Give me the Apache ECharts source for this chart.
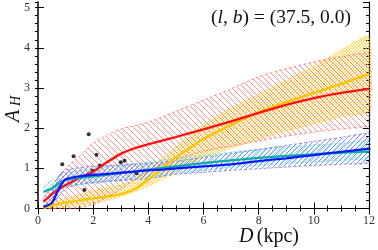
<!DOCTYPE html>
<html>
<head>
<meta charset="utf-8">
<script src="https://cdn.jsdelivr.net/npm/echarts@6/dist/echarts.min.js"></script>
<style>
html, body { margin: 0; padding: 0; background: #fff; }
#main { width: 378px; height: 250px; }
</style>
</head>
<body>
<div id="main"></div>
<script>
// distance grid (kpc)
var dist = [0.2, 0.5, 0.8, 1, 1.5, 2, 2.5, 3, 3.5, 4, 4.5, 5, 6, 7, 8, 9, 10, 11, 12];

// median curves
var redLine    = [0.17, 0.35, 0.5, 0.58, 0.76, 0.92, 1.15, 1.36, 1.5, 1.6, 1.69, 1.78, 1.97, 2.17, 2.38, 2.58, 2.75, 2.88, 2.98];
var yellowLine = [0.02, 0.07, 0.12, 0.15, 0.2, 0.25, 0.3, 0.36, 0.48, 0.72, 1.0, 1.27, 1.73, 2.08, 2.4, 2.65, 2.88, 3.1, 3.35];
var cyanLine   = [0.42, 0.5, 0.65, 0.72, 0.76, 0.8, 0.84, 0.88, 0.92, 0.97, 1.01, 1.05, 1.13, 1.2, 1.26, 1.31, 1.35, 1.39, 1.42];
var blueLine   = [0.04, 0.14, 0.55, 0.72, 0.8, 0.84, 0.86, 0.89, 0.92, 0.95, 0.97, 1.0, 1.05, 1.1, 1.18, 1.25, 1.33, 1.41, 1.49];

// uncertainty bands
var redLo    = [0.0, 0.0, 0.0, 0.0, 0.02, 0.1, 0.28, 0.48, 0.72, 0.92, 1.08, 1.22, 1.42, 1.56, 1.68, 1.8, 1.9, 1.98, 2.05];
var redHi    = [0.25, 0.55, 0.85, 1.0, 1.3, 1.63, 1.83, 1.98, 2.06, 2.15, 2.28, 2.42, 2.7, 2.98, 3.28, 3.48, 3.65, 3.78, 3.88];
var yellowLo = [0.0, 0.01, 0.02, 0.03, 0.07, 0.12, 0.2, 0.3, 0.42, 0.55, 0.72, 0.9, 1.25, 1.5, 1.72, 1.92, 2.1, 2.27, 2.42];
var yellowHi = [0.08, 0.15, 0.22, 0.25, 0.35, 0.45, 0.53, 0.6, 0.72, 0.95, 1.25, 1.55, 2.1, 2.5, 2.85, 3.2, 3.55, 3.95, 4.3];
var cyanLo   = [0.3, 0.35, 0.5, 0.55, 0.6, 0.62, 0.66, 0.7, 0.74, 0.78, 0.83, 0.88, 0.95, 1.02, 1.08, 1.12, 1.16, 1.2, 1.24];
var cyanHi   = [0.55, 0.7, 0.82, 0.88, 0.95, 1.0, 1.04, 1.08, 1.12, 1.15, 1.2, 1.25, 1.32, 1.4, 1.47, 1.53, 1.58, 1.62, 1.7];
var blueLo   = [0.0, 0.1, 0.35, 0.5, 0.6, 0.65, 0.68, 0.7, 0.72, 0.74, 0.8, 0.85, 0.9, 0.95, 0.99, 1.03, 1.07, 1.1, 1.13];
var blueHi   = [0.15, 0.4, 0.85, 0.95, 1.02, 1.05, 1.07, 1.08, 1.1, 1.12, 1.15, 1.18, 1.27, 1.37, 1.47, 1.57, 1.67, 1.77, 1.88];

// individual stars
var starD = [0.88, 1.29, 1.68, 1.84, 1.98, 2.12, 2.25, 3.0, 3.14, 3.57];
var starA = [1.1, 1.3, 0.46, 1.85, 0.94, 1.34, 1.07, 1.15, 1.19, 0.88];

var yTicks = [0, 1, 2, 3, 4, 5];

function hatch(size, color, width, dirs) {
    var c = document.createElement('canvas');
    c.width = size; c.height = size;
    var ctx = c.getContext('2d');
    ctx.strokeStyle = color;
    ctx.lineWidth = width;
    for (var k = -size; k <= size; k += size) {
        if (dirs.indexOf('\\') >= 0) {
            ctx.beginPath(); ctx.moveTo(k, 0); ctx.lineTo(k + size, size); ctx.stroke();
        }
        if (dirs.indexOf('/') >= 0) {
            ctx.beginPath(); ctx.moveTo(k, size); ctx.lineTo(k + size, 0); ctx.stroke();
        }
    }
    return {image: c, repeat: 'repeat'};
}

var patRed = hatch(6, 'rgba(255,80,80,0.7)', 0.9, '\\');
var patYellow = hatch(3, 'rgba(255,200,20,0.8)', 0.7, '\\/');
var patCyan = hatch(4, 'rgba(40,210,220,0.7)', 0.8, '/');
var patBlue = hatch(5, 'rgba(60,60,255,0.7)', 0.8, '/');

function pairs(ys) {
    return dist.map(function (d, i) { return [d, ys[i]]; });
}

function band(name, lo, hi, fill) {
    return {
        name: name,
        type: 'custom',
        silent: true,
        data: [[dist[0], lo[0]]],
        renderItem: function (params, api) {
            var pts = [];
            for (var i = 0; i < dist.length; i++) pts.push(api.coord([dist[i], hi[i]]));
            for (var j = dist.length - 1; j >= 0; j--) pts.push(api.coord([dist[j], lo[j]]));
            return {
                type: 'polygon',
                shape: {points: pts, smooth: 0.2},
                style: {fill: fill, stroke: null}
            };
        }
    };
}

function edge(ys, color) {
    return {
        type: 'line', data: pairs(ys), smooth: 0.25, symbol: 'none', silent: true,
        lineStyle: {color: color, width: 0.8, type: [3, 2]}
    };
}

function curve(ys, color) {
    return {
        type: 'line', data: pairs(ys), smooth: 0.25, symbol: 'none', silent: true,
        lineStyle: {color: color, width: 2.3}
    };
}

var serif = 'Liberation Serif';
var tickStyle = {show: true, inside: true, length: 6, lineStyle: {color: '#000', width: 1}};
var minorStyle = {show: true, inside: true, length: 3, lineStyle: {color: '#000', width: 1}};

var chartDom = document.getElementById('main');
var myChart = echarts.init(chartDom);
var option;

option = {
    animation: false,
    grid: {left: 38, right: 5, top: 2, bottom: 41.5},
    xAxis: [
        {
            type: 'value', min: 0, max: 12, interval: 2,
            axisLine: {lineStyle: {color: '#000', width: 1.2}},
            axisTick: tickStyle,
            minorTick: {show: true, splitNumber: 4, length: 3, lineStyle: {color: '#000'}},
            splitLine: {show: false},
            axisLabel: {color: '#333', fontFamily: serif, fontSize: 12, margin: 6}
        },
        {
            type: 'value', position: 'top', min: 0, max: 12, interval: 2,
            axisLine: {lineStyle: {color: '#000', width: 1.2}},
            axisTick: tickStyle,
            minorTick: {show: true, splitNumber: 4, length: 3, lineStyle: {color: '#000'}},
            splitLine: {show: false},
            axisLabel: {show: false}
        }
    ],
    yAxis: [
        {
            type: 'value', min: 0, max: 5.14, interval: 1,
            axisLine: {lineStyle: {color: '#000', width: 1.5}},
            axisTick: tickStyle,
            splitLine: {show: false},
            axisLabel: {
                color: '#333', fontFamily: serif, fontSize: 12, margin: 8, showMaxLabel: false,
                formatter: function (v) { return yTicks.indexOf(v) >= 0 ? String(v) : ''; }
            }
        },
        {
            type: 'value', min: 0, max: 5.14, interval: 0.2,
            axisLine: {show: false}, axisTick: minorStyle,
            splitLine: {show: false}, axisLabel: {show: false}
        },
        {
            type: 'value', position: 'right', min: 0, max: 5.14, interval: 1,
            axisLine: {lineStyle: {color: '#000', width: 1.2}},
            axisTick: tickStyle, splitLine: {show: false}, axisLabel: {show: false}
        },
        {
            type: 'value', position: 'right', min: 0, max: 5.14, interval: 0.2,
            axisLine: {show: false}, axisTick: minorStyle,
            splitLine: {show: false}, axisLabel: {show: false}
        }
    ],
    graphic: [
        {
            type: 'text', left: 211, top: 8,
            style: {
                text: '{r|(}{i|l}{r|, }{i|b}{r|) = (37.5, 0.0)}',
                rich: {
                    r: {fontFamily: serif, fontSize: 19.5, fill: '#111'},
                    i: {fontFamily: serif, fontSize: 19.5, fontStyle: 'italic', fill: '#111'}
                }
            }
        },
        {
            type: 'text', left: 239, top: 227,
            style: {
                text: '{i|D} {r|(kpc)}',
                rich: {
                    r: {fontFamily: serif, fontSize: 20, fill: '#111'},
                    i: {fontFamily: serif, fontSize: 20, fontStyle: 'italic', fill: '#111'}
                }
            }
        },
        {
            type: 'text', x: 4, y: 122, rotation: Math.PI / 2,
            style: {text: 'A', fontFamily: serif, fontSize: 20, fontStyle: 'italic', fill: '#111'}
        },
        {
            type: 'text', x: 9, y: 106, rotation: Math.PI / 2,
            style: {text: 'H', fontFamily: serif, fontSize: 14, fontStyle: 'italic', fill: '#111'}
        }
    ],
    series: [
        band('yellowBand', yellowLo, yellowHi, patYellow),
        band('redBand', redLo, redHi, patRed),
        band('cyanBand', cyanLo, cyanHi, patCyan),
        band('blueBand', blueLo, blueHi, patBlue),
        edge(yellowLo, 'rgba(255,210,60,0.8)'),
        edge(yellowHi, 'rgba(255,210,60,0.8)'),
        edge(redLo, 'rgba(255,90,90,0.8)'),
        edge(redHi, 'rgba(255,90,90,0.8)'),
        edge(cyanLo, 'rgba(60,210,220,0.8)'),
        edge(cyanHi, 'rgba(60,210,220,0.8)'),
        edge(blueLo, 'rgba(80,80,255,0.8)'),
        edge(blueHi, 'rgba(80,80,255,0.8)'),
        curve(yellowLine, '#ffc400'),
        curve(redLine, '#ff1010'),
        curve(cyanLine, '#10aaaa'),
        curve(blueLine, '#0a1aff'),
        {
            type: 'scatter', symbolSize: 4, silent: true,
            itemStyle: {color: '#000'},
            data: starD.map(function (d, i) { return [d, starA[i]]; })
        }
    ]
};

option && myChart.setOption(option);
</script>
</body>
</html>
